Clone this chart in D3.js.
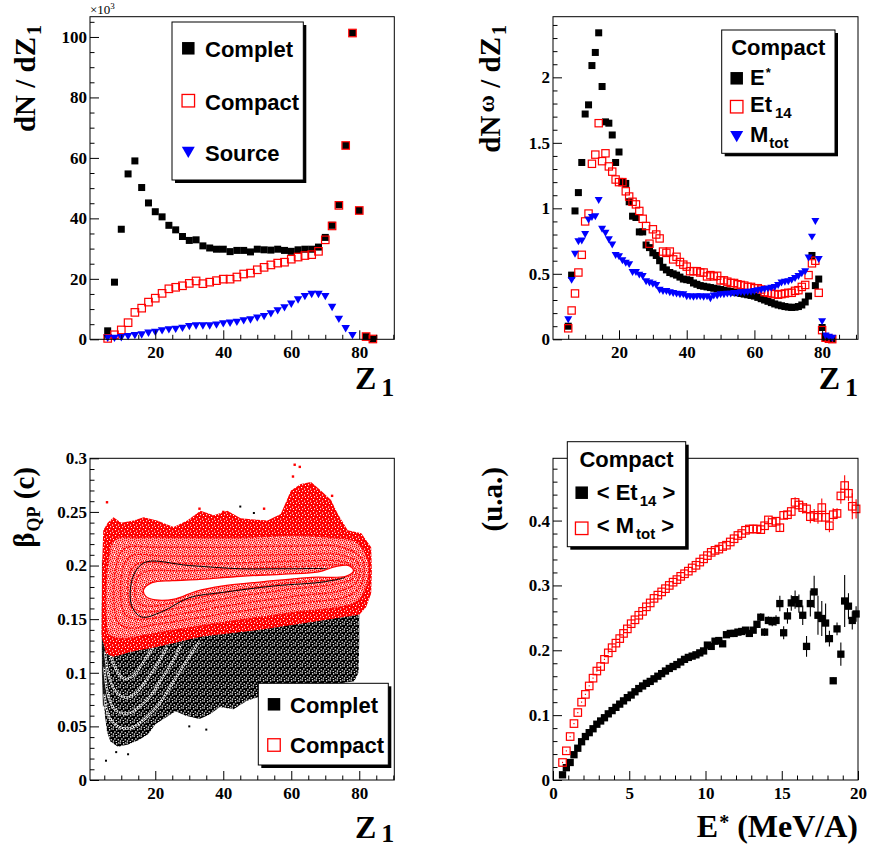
<!DOCTYPE html>
<html><head><meta charset="utf-8">
<script src="https://cdn.jsdelivr.net/npm/d3@7"></script>
<style>
body{margin:0;background:#fff;}
svg{display:block;}
.tick line{stroke:#000;stroke-width:1;}
</style></head><body>
<script>
// ================= DATA =================
// Panel A : dN/dZ1 (x10^3)
const zA = [6,8,10,12,14,16,18,20,22,24,26,28,30,32,34,36,38,40,42,44,46,48,50,52,54,56,58,60,62,64,66,68,70,72,74,76,78,80,82,84];
const completA = [2.8,18.9,36.4,54.7,59.0,50.2,45.1,42.2,40.5,37.7,36.2,34.0,32.7,32.9,30.9,30.2,29.8,29.8,29.0,29.4,29.4,28.9,29.8,29.6,29.5,29.8,29.4,29.1,29.6,29.8,29.8,30.5,33.7,37.7,44.5,64.1,101.3,42.6,0.9,0.1];
const compactA = [0.3,1.5,3.1,5.5,8.9,10.3,12.3,13.6,15.2,16.7,17.2,17.7,18.5,19.3,18.4,18.9,19.4,19.9,19.9,20.6,21.6,21.9,23.0,23.8,24.6,25.2,25.5,26.5,27.2,27.7,28.0,29.1,32.9,37.5,44.3,64.1,101.3,42.6,0.9,0.1];
const zSourceA = [6,8,10,12,14,16,18,20,22,24,26,28,30,32,34,36,38,40,42,44,46,48,50,52,54,56,58,60,62,64,66,68,70,72,74,76,78];
const sourceA = [0.3,0.3,0.5,0.9,1.2,1.4,2.0,2.3,2.8,3.1,3.3,3.6,4.2,4.4,4.4,4.4,4.7,5.1,5.3,5.6,6.1,6.4,7.0,7.5,8.4,9.4,10.4,11.6,13.0,14.1,14.8,14.8,14.1,10.5,6.6,3.5,1.2];
const labelsA = ["Complet","Compact","Source"];
const xTicksA = [20,40,60,80];
const yTicksA = [0,20,40,60,80,100];

// Panel B : dN^w/dZ1, Compact
const zB = [5,6,7,8,9,10,11,12,13,14,15,16,17,18,19,20,21,22,23,24,25,26,27,28,29,30,31,32,33,34,35,36,37,38,39,40,41,42,43,44,45,46,47,48,49,50,51,52,53,54,55,56,57,58,59,60,61,62,63,64,65,66,67,68,69,70,71,72,73,74,75,76,77,78,79,80,81,82,83];
const eStarB = [0.10,0.49,0.98,1.12,1.35,1.72,1.79,2.09,2.19,2.34,
  1.93,1.66,1.65,1.56,1.35,1.43,1.20,1.19,1.05,0.94,
  0.93,0.82,0.82,0.72,0.70,0.66,0.64,0.60,0.55,0.53,
  0.51,0.50,0.49,0.475,0.46,0.455,0.45,0.43,0.42,0.41,
  0.405,0.40,0.395,0.39,0.385,0.38,0.375,0.37,0.365,0.36,
  0.355,0.35,0.345,0.34,0.335,0.33,0.32,0.31,0.30,0.29,
  0.28,0.27,0.262,0.256,0.25,0.246,0.243,0.245,0.25,0.262,
  0.285,0.33,0.64,0.41,0.46,0.09,0.012,0.004,0.001];
const et14B = [0.084,0.22,0.35,0.51,0.645,0.90,0.96,1.34,1.41,1.65,
  1.36,1.42,1.32,1.28,1.22,1.20,1.20,1.13,1.09,1.05,
  1.03,0.98,0.92,0.865,0.73,0.84,0.80,0.77,0.67,0.66,
  0.67,0.61,0.63,0.59,0.57,0.555,0.52,0.52,0.52,0.51,
  0.51,0.48,0.49,0.48,0.485,0.45,0.45,0.44,0.43,0.43,
  0.42,0.415,0.41,0.40,0.40,0.39,0.39,0.38,0.36,0.355,
  0.35,0.345,0.34,0.345,0.35,0.355,0.355,0.37,0.375,0.40,
  0.415,0.49,0.58,0.60,0.355,0.07,0.012,0.004,0.001];
const mtotB = [0.15,0.45,0.65,0.745,0.75,0.80,0.91,0.93,0.935,1.06,
  0.84,0.81,0.76,0.72,0.64,0.63,0.60,0.58,0.57,0.51,
  0.51,0.49,0.48,0.44,0.43,0.42,0.41,0.375,0.365,0.365,
  0.355,0.35,0.345,0.34,0.34,0.325,0.325,0.32,0.325,0.325,
  0.32,0.325,0.31,0.33,0.33,0.34,0.34,0.345,0.345,0.35,
  0.35,0.355,0.355,0.36,0.36,0.365,0.37,0.375,0.38,0.385,
  0.39,0.395,0.41,0.43,0.435,0.44,0.45,0.465,0.48,0.50,
  0.515,0.62,0.78,0.90,0.61,0.135,0.025,0.015,0.008];
const xTicksB = [20,40,60,80];
const yTicksB = [0,0.5,1,1.5,2];

// Panel C : beta_QP vs Z1 (outlines)
const cCompletCloud = [[4.3,0.205],[4.3,0.12],[4.6,0.085],[5.2,0.06],[5.8,0.045],[6.8,0.036],[9,0.031],[12,0.033],[15,0.037],[18,0.043],[20,0.052],[23,0.058],[26,0.064],[29,0.06],[33,0.057],[36,0.061],[39,0.068],[43,0.066],[47,0.074],[52,0.079],[57,0.083],[62,0.086],[68,0.088],[74,0.09],[78.5,0.092],[79.8,0.1],[80,0.13],[80,0.156],[60,0.19],[20,0.2]];
const cCompletEdge = [[4.3,0.165],[5.9,0.16],[6.2,0.12],[5.9,0.075],[4.6,0.068],[4.3,0.1]];
const cCompletLevels = [
  [[5.5,0.135],[7.5,0.11],[9.5,0.098],[11.5,0.094],[13.5,0.097],[15.5,0.105],[17.5,0.115],[19.5,0.124]],
  [[5.2,0.12],[6.5,0.095],[8.5,0.082],[11,0.077],[13.5,0.079],[16,0.087],[18.5,0.098],[21,0.11],[23.5,0.124]],
  [[5,0.105],[6.2,0.078],[8,0.066],[10.5,0.062],[13,0.063],[16,0.07],[19,0.08],[22,0.095],[25,0.11],[27.5,0.126]],
  [[5,0.08],[6.5,0.058],[9,0.05],[12,0.048],[15,0.052],[18,0.06],[21,0.07],[24,0.085],[27,0.1],[30,0.115],[33,0.129]]
];
const cCompletInner = [[13,0.163],[13.5,0.19],[17,0.203],[30,0.2],[45,0.197],[60,0.197],[72,0.196],[76,0.19],[70,0.185],[55,0.181],[40,0.175],[30,0.17],[22,0.157],[16,0.152]];
const cCompactCloud = [[4.2,0.134],[4.3,0.17],[4.4,0.205],[4.7,0.233],[6,0.24],[7.7,0.245],[10,0.24],[13.6,0.242],[16.6,0.245],[20.5,0.242],[25.4,0.236],[29.4,0.242],[33.3,0.251],[37.2,0.247],[41.2,0.251],[45.1,0.244],[49,0.243],[53,0.242],[56.9,0.248],[59.9,0.27],[62.8,0.276],[65.8,0.278],[68.7,0.27],[71.7,0.261],[73.7,0.248],[76.6,0.233],[80.6,0.23],[83.5,0.217],[83.7,0.195],[83.5,0.174],[82,0.161],[80,0.154],[53,0.141],[33.3,0.1335],[20.5,0.124],[13.6,0.12],[7.7,0.115],[5.5,0.118]];
const cCompactLevels = [
  [[5.5,0.15],[6,0.2],[8,0.224],[15,0.226],[30,0.226],[45,0.226],[60,0.228],[72,0.226],[79,0.222],[82.5,0.205],[82,0.18],[79,0.166],[60,0.156],[40,0.147],[22,0.138],[10,0.132],[6.5,0.135]],
  [[8,0.16],[8.5,0.2],[11,0.216],[20,0.217],[40,0.217],[60,0.218],[75,0.217],[81,0.205],[80.5,0.182],[77,0.172],[60,0.164],[40,0.155],[22,0.146],[12,0.142],[9,0.147]],
  [[10,0.165],[10.5,0.198],[13,0.209],[22,0.209],[40,0.209],[60,0.21],[76,0.209],[80,0.2],[79.5,0.186],[76,0.178],[60,0.171],[40,0.162],[24,0.153],[14,0.15],[11,0.155]],
  [[12,0.17],[12.5,0.193],[15,0.202],[24,0.202],[40,0.202],[60,0.204],[76,0.203],[79,0.196],[78.5,0.189],[75,0.184],[60,0.178],[40,0.169],[26,0.16],[16,0.157],[13,0.161]],
  [[14,0.173],[15,0.19],[18,0.195],[28,0.195],[44,0.197],[62,0.199],[77,0.199],[78,0.194],[74,0.188],[60,0.184],[42,0.176],[28,0.167],[18,0.162],[15,0.165]]
];
const cCompactCore = [[16.5,0.177],[19,0.184],[25,0.186],[33,0.187],[45,0.19],[58,0.192],[68,0.194],[73,0.199],[77,0.2],[78.3,0.195],[76,0.19],[66,0.189],[52,0.185],[40,0.181],[32,0.176],[26,0.169],[20,0.168],[17.3,0.171]];
const cCompactOutliers = [[5.8,0.259],[61,0.294],[62.5,0.292],[60.5,0.283],[33,0.253],[40,0.25],[72,0.265],[52,0.253],[66,0.274]];
const cCompletOutliers = [[5.5,0.018],[8.5,0.026],[12,0.024],[45,0.255],[49,0.249],[30,0.05],[35,0.047]];
const labelsC = ["Complet","Compact"];
const xTicksC = [20,40,60,80];
const yTicksC = [0,0.05,0.1,0.15,0.2,0.25,0.3];

// Panel D : <Et14>, <Mtot> vs E*
const eD = [0.625,0.875,1.125,1.375,1.625,1.875,2.125,2.375,2.625,2.875,
  3.125,3.375,3.625,3.875,4.125,4.375,4.625,4.875,5.125,5.375,
  5.625,5.875,6.125,6.375,6.625,6.875,7.125,7.375,7.625,7.875,
  8.125,8.375,8.625,8.875,9.125,9.375,9.625,9.875,10.125,10.375,
  10.625,10.875,11.125,11.375,11.625,11.875,12.125,12.375,12.625,12.875,
  13.125,13.375,13.625,13.875,14.125,14.375,14.625,14.875,15.125,15.375,
  15.625,15.875,16.125,16.375,16.625,16.875,17.125,17.375,17.625,17.875,
  18.125,18.375,18.625,18.875,19.125,19.375,19.625,19.875];
const et14D = [0.008,0.019,0.027,0.039,0.049,0.059,0.067,0.073,0.079,0.086,
  0.091,0.096,0.102,0.107,0.112,0.117,0.122,0.127,0.131,0.136,
  0.141,0.145,0.149,0.152,0.156,0.160,0.164,0.168,0.172,0.175,
  0.178,0.182,0.186,0.189,0.191,0.193,0.196,0.199,0.208,0.206,
  0.214,0.215,0.210,0.224,0.226,0.226,0.228,0.229,0.231,0.226,
  0.231,0.240,0.251,0.228,0.246,0.244,0.246,0.272,0.227,0.253,
  0.273,0.278,0.272,0.254,0.206,0.272,0.290,0.254,0.249,0.242,
  0.218,0.153,0.233,0.194,0.276,0.268,0.246,0.256];
const et14DErr = [0.001,0.001,0.001,0.001,0.001,0.001,0.001,0.001,0.001,0.001,
  0.001,0.001,0.001,0.001,0.001,0.001,0.001,0.001,0.001,0.001,
  0.001,0.001,0.001,0.001,0.001,0.001,0.001,0.001,0.001,0.001,
  0.0015,0.0015,0.0015,0.0015,0.0015,0.0015,0.0015,0.0015,0.0015,0.0015,
  0.002,0.002,0.003,0.003,0.003,0.003,0.003,0.004,0.004,0.004,
  0.004,0.005,0.006,0.006,0.006,0.007,0.008,0.012,0.010,0.012,
  0.012,0.014,0.014,0.015,0.016,0.020,0.025,0.030,0.027,0.030,
  0.012,0.005,0.010,0.018,0.040,0.020,0.014,0.012];
const mtotD = [0.027,0.045,0.067,0.087,0.104,0.120,0.132,0.145,0.157,0.168,
  0.175,0.186,0.196,0.204,0.211,0.218,0.226,0.233,0.241,0.247,
  0.254,0.260,0.267,0.273,0.280,0.285,0.290,0.295,0.300,0.305,
  0.309,0.314,0.318,0.322,0.327,0.331,0.336,0.341,0.346,0.351,
  0.354,0.356,0.360,0.362,0.367,0.372,0.377,0.380,0.385,0.387,
  0.387,0.387,0.386,0.392,0.401,0.397,0.399,0.389,0.408,0.409,
  0.414,0.428,0.424,0.420,0.418,0.406,0.408,0.405,0.420,0.405,
  0.392,0.409,0.411,0.438,0.454,0.442,0.422,0.418];
const mtotDErr = [0.001,0.001,0.001,0.001,0.001,0.001,0.001,0.001,0.001,0.001,
  0.001,0.001,0.001,0.001,0.001,0.001,0.001,0.001,0.001,0.001,
  0.001,0.001,0.001,0.001,0.001,0.001,0.001,0.001,0.001,0.001,
  0.001,0.001,0.001,0.001,0.001,0.001,0.001,0.001,0.001,0.001,
  0.002,0.002,0.002,0.002,0.002,0.002,0.002,0.002,0.002,0.002,
  0.003,0.003,0.003,0.004,0.004,0.005,0.005,0.006,0.006,0.007,
  0.007,0.008,0.008,0.009,0.009,0.010,0.010,0.010,0.014,0.012,
  0.010,0.010,0.008,0.012,0.016,0.012,0.020,0.015];
const xTicksD = [0,5,10,15,20];
const yTicksD = [0,0.1,0.2,0.3,0.4];

// ================= DRAWING =================
const SERIF = '"Liberation Serif","Times New Roman",Times,serif';
const SANS = '"Liberation Sans",Arial,Helvetica,sans-serif';
const RED = "#ff0000", BLUE = "#0000ff";
const svg = d3.select("body").append("svg").attr("width",870).attr("height",848);
const defs = svg.append("defs");

function pattern(id, w, bg, color, dots, s){
  const p = defs.append("pattern").attr("id",id).attr("width",w).attr("height",w).attr("patternUnits","userSpaceOnUse");
  if (bg) p.append("rect").attr("width",w).attr("height",w).attr("fill",bg);
  dots.forEach(([a,b]) => p.append("rect").attr("x",a).attr("y",b).attr("width",s).attr("height",s).attr("fill",color));
}
pattern("blk",7,"#000","#fff",[[0.5,0.5],[4,1.2],[2.2,3.3],[5.6,4.1],[0.8,5.4],[3.6,6.0],[6.2,0.2]],1.3);
pattern("redDense",6,RED,"#fff",[[1,1],[4,2.5],[2,4.2],[5,5]],1.1);
pattern("redMid",6,"#fff",RED,[[0,0],[2,0.5],[4,0],[1,2],[3,2.5],[5,2],[0,4],[2,4.5],[4,4]],1.5);

function makePanel(o){
  const x = d3.scaleLinear().domain(o.xd).range([o.x0,o.x1]);
  const y = d3.scaleLinear().domain(o.yd).range([o.y1,o.y0]);
  const g = svg.append("g");
  return {x,y,g,o};
}
function styleTicks(sel){
  sel.selectAll("text").style("font-family",SERIF).style("font-weight","bold").style("font-size","17px").style("fill","#000");
}
function axes(p, xMajor, xMinor, yMajor, yMinor){
  const {x,y,g,o} = p;
  const ax = g.append("g");
  ax.append("g").attr("transform",`translate(0,${o.y1})`)
    .call(d3.axisBottom(x).tickValues(xMajor).tickSize(-9).tickPadding(7).tickFormat(d=>String(d))).call(styleTicks);
  ax.append("g").attr("transform",`translate(0,${o.y1})`)
    .call(d3.axisBottom(x).tickValues(xMinor).tickSize(-4.5).tickFormat(""));
  ax.append("g").attr("transform",`translate(${o.x0},0)`)
    .call(d3.axisLeft(y).tickValues(yMajor).tickSize(-9).tickPadding(3).tickFormat(d=>String(d))).call(styleTicks);
  ax.append("g").attr("transform",`translate(${o.x0},0)`)
    .call(d3.axisLeft(y).tickValues(yMinor).tickSize(-4.5).tickFormat(""));
  ax.selectAll(".domain").remove();
  g.append("rect").attr("x",o.x0).attr("y",o.y0).attr("width",o.x1-o.x0).attr("height",o.y1-o.y0)
    .attr("fill","none").attr("stroke","#000").attr("stroke-width",1);
}
function minor(step, max, every){
  return d3.range(1, Math.floor(max/step+1e-9)+1).filter(i=>i%every!==0).map(i=>+(i*step).toFixed(4));
}
function squares(g, xs, ys, p, size, filled, color){
  g.append("g").selectAll("rect").data(xs.map((v,i)=>[v,ys[i]])).join("rect")
    .attr("x",d=>p.x(d[0])-size/2).attr("y",d=>p.y(d[1])-size/2)
    .attr("width",size).attr("height",size)
    .attr("fill",filled?color:"none").attr("stroke",filled?"none":color).attr("stroke-width",filled?0:1.2);
}
function tri(w){ const h=w*0.87; return `M${-w/2},${-h/2}L${w/2},${-h/2}L0,${h/2}Z`; }
function triangles(g, xs, ys, p, w, color){
  g.append("g").selectAll("path").data(xs.map((v,i)=>[v,ys[i]])).join("path")
    .attr("transform",d=>`translate(${p.x(d[0])},${p.y(d[1])})`).attr("d",tri(w)).attr("fill",color);
}
function legendBox(x0,y0,x1,y1){
  svg.append("rect").attr("x",x0+3).attr("y",y0+3).attr("width",x1-x0).attr("height",y1-y0).attr("fill","#000");
  svg.append("rect").attr("x",x0).attr("y",y0).attr("width",x1-x0).attr("height",y1-y0).attr("fill","#fff").attr("stroke","#000").attr("stroke-width",1);
}
function legText(x,y,anchor){
  return svg.append("text").attr("x",x).attr("y",y).attr("text-anchor",anchor||"start")
    .attr("font-family",SANS).attr("font-weight","bold").attr("font-size",22).attr("fill","#000");
}
function legMarker(kind,cx,cy,color){
  const s=12.5;
  if(kind==="fill") svg.append("rect").attr("x",cx-s/2).attr("y",cy-s/2).attr("width",s).attr("height",s).attr("fill",color);
  else if(kind==="open") svg.append("rect").attr("x",cx-s/2).attr("y",cy-s/2).attr("width",s).attr("height",s).attr("fill","none").attr("stroke",color).attr("stroke-width",1.3);
  else svg.append("path").attr("transform",`translate(${cx},${cy})`).attr("d",tri(13)).attr("fill",color);
}
function title(x,y,rot,size){
  const t = svg.append("text").attr("text-anchor","end").attr("font-family",SERIF).attr("font-weight","bold").attr("font-size",size).attr("fill","#000");
  if(rot) t.attr("transform",`translate(${x},${y}) rotate(-90)`); else t.attr("x",x).attr("y",y);
  return t;
}

// ---------- Panel A ----------
const pA = makePanel({x0:90,x1:394.3,y0:16.7,y1:339.3,xd:[0.8,90.3],yd:[0,106.7]});
squares(pA.g, zA, completA, pA, 7, true, "#000");
squares(pA.g, zA, compactA, pA, 7.5, false, RED);
triangles(pA.g, zSourceA, sourceA, pA, 8.5, BLUE);
axes(pA, xTicksA, minor(5,90,4), yTicksA, minor(5,105,4));
{
  const t = svg.append("text").attr("x",90).attr("y",14).attr("font-family",SERIF).attr("font-size",13).attr("fill","#000");
  t.append("tspan").text("\u00d710");
  t.append("tspan").attr("dy",-5).attr("font-size",9).text("3");
}
{ const t = title(35,25,true,29); t.append("tspan").text("dN / dZ"); t.append("tspan").attr("dy",6).attr("dx",2).attr("font-size",20).text("1"); }
{ const t = title(394.3,389,false,32); t.append("tspan").text("Z"); t.append("tspan").attr("dx",5).attr("dy",7).attr("font-size",26).text("1"); }
legendBox(172,22,303.3,180);
legMarker("fill",188.3,48.3,"#000"); legText(205,56.7).text(labelsA[0]);
legMarker("open",188.3,100.7,RED); legText(205,110).text(labelsA[1]);
legMarker("tri",188.3,152.3,BLUE); legText(205,160.7).text(labelsA[2]);

// ---------- Panel B ----------
const pB = makePanel({x0:553,x1:858,y0:16.7,y1:339.3,xd:[0.5,90.6],yd:[0,2.463]});
squares(pB.g, zB, eStarB, pB, 7, true, "#000");
squares(pB.g, zB, et14B, pB, 7.3, false, RED);
triangles(pB.g, zB, mtotB, pB, 8, BLUE);
axes(pB, xTicksB, minor(5,90,4), yTicksB, minor(0.1,2.4,5));
{ const t = title(500,25,true,29); t.append("tspan").text("dN");
  t.append("tspan").attr("dy",-6).attr("dx",3).attr("font-size",24).text("\u03c9");
  t.append("tspan").attr("dy",6).text(" / dZ");
  t.append("tspan").attr("dy",6).attr("dx",2).attr("font-size",20).text("1"); }
{ const t = title(858,389,false,32); t.append("tspan").text("Z"); t.append("tspan").attr("dx",5).attr("dy",7).attr("font-size",26).text("1"); }
legendBox(721.7,30,835,153.3);
legText(778.3,54.5,"middle").text("Compact");
legMarker("fill",736.7,78.3,"#000");
{ const t = legText(750,85); t.append("tspan").text("E"); t.append("tspan").attr("dy",-8).attr("dx",1).attr("font-size",13).text("*"); }
legMarker("open",736.7,106.7,RED);
{ const t = legText(750,111.7); t.append("tspan").text("Et"); t.append("tspan").attr("dx",3).attr("dy",6).attr("font-size",15).text("14"); }
legMarker("tri",736.7,136.7,BLUE);
{ const t = legText(750,141.7); t.append("tspan").text("M"); t.append("tspan").attr("dx",1).attr("dy",6).attr("font-size",15).text("tot"); }

// ---------- Panel C ----------
const pC = makePanel({x0:90,x1:394.3,y0:458.3,y1:780,xd:[0.8,90.3],yd:[0,0.3]});
defs.append("clipPath").attr("id","clipC").append("rect").attr("x",90).attr("y",458.3).attr("width",304.3).attr("height",321.7);
const gC = pC.g.append("g").attr("clip-path","url(#clipC)");
const closedLin = d3.line().x(d=>pC.x(d[0])).y(d=>pC.y(d[1])).curve(d3.curveLinearClosed);
const smoothClosed = d3.line().x(d=>pC.x(d[0])).y(d=>pC.y(d[1])).curve(d3.curveCatmullRomClosed.alpha(0.5));
const smoothOpen = d3.line().x(d=>pC.x(d[0])).y(d=>pC.y(d[1])).curve(d3.curveCatmullRom.alpha(0.5));
gC.append("path").attr("d",closedLin(cCompletCloud)).attr("fill","url(#blk)");
gC.append("path").attr("d",closedLin(cCompletEdge)).attr("fill","#111").attr("opacity",0.85);
cCompletLevels.forEach(l => gC.append("path").attr("d",smoothOpen(l)).attr("fill","none").attr("stroke","#fff").attr("stroke-width",2.2));
cCompletLevels.forEach(l => gC.append("path").attr("d",smoothOpen(l)).attr("fill","none").attr("stroke","#000").attr("stroke-width",1.2).attr("stroke-dasharray","1.6 1.2"));
gC.selectAll(null).data(cCompletOutliers).join("rect").attr("x",d=>pC.x(d[0])-1).attr("y",d=>pC.y(d[1])-1).attr("width",2).attr("height",2).attr("fill","#000");
gC.append("path").attr("d",closedLin(cCompactCloud)).attr("fill","url(#redDense)");
gC.append("path").attr("d",smoothClosed(cCompactLevels[0])).attr("fill","url(#redMid)");
cCompactLevels.forEach(l => gC.append("path").attr("d",smoothClosed(l)).attr("fill","none").attr("stroke",RED).attr("stroke-width",1.4).attr("stroke-dasharray","1.8 1.2"));
gC.append("path").attr("d",smoothClosed(cCompletInner)).attr("fill","none").attr("stroke","#000").attr("stroke-width",1);
gC.append("path").attr("d",smoothClosed(cCompactCore)).attr("fill","#fff").attr("stroke",RED).attr("stroke-width",1.3);
gC.selectAll(null).data(cCompactOutliers).join("rect").attr("x",d=>pC.x(d[0])-1.2).attr("y",d=>pC.y(d[1])-1.2).attr("width",2.4).attr("height",2.4).attr("fill",RED);
axes(pC, xTicksC, minor(5,90,4), yTicksC, minor(0.01,0.29,5));
{ const t = title(34,467,true,29); t.append("tspan").text("\u03b2");
  t.append("tspan").attr("dy",6).attr("dx",1).attr("font-size",18).text("QP");
  t.append("tspan").attr("dy",-6).text(" (c)"); }
{ const t = title(394.3,838.3,false,32); t.append("tspan").text("Z"); t.append("tspan").attr("dx",5).attr("dy",4).attr("font-size",26).text("1"); }
legendBox(258.3,683.3,388.3,765);
legMarker("fill",274,704.3,"#000"); legText(290,713.3).text(labelsC[0]);
legMarker("open",274,745,RED); legText(290,753.3).text(labelsC[1]);

// ---------- Panel D ----------
const pD = makePanel({x0:553,x1:858,y0:458.3,y1:780,xd:[0,20],yd:[0,0.496]});
function errBars(g, xs, ys, es, p, color){
  g.append("g").selectAll("line").data(xs.map((v,i)=>[v,ys[i],es[i]])).join("line")
    .attr("x1",d=>p.x(d[0])).attr("x2",d=>p.x(d[0]))
    .attr("y1",d=>p.y(d[1]-d[2])).attr("y2",d=>p.y(d[1]+d[2]))
    .attr("stroke",color).attr("stroke-width",1.1);
}
errBars(pD.g, eD, et14D, et14DErr, pD, "#000");
squares(pD.g, eD, et14D, pD, 7.3, true, "#000");
errBars(pD.g, eD, mtotD, mtotDErr, pD, RED);
squares(pD.g, eD, mtotD, pD, 7.5, false, RED);
axes(pD, xTicksD, minor(1,20,5), yTicksD, minor(0.02,0.48,5));
{ const t = title(502,467,true,29); t.text("(u.a.)"); }
{ const t = title(858,836.7,false,32); t.append("tspan").text("E");
  t.append("tspan").attr("dy",-8).attr("dx",1).attr("font-size",20).text("*");
  t.append("tspan").attr("dy",8).text(" (MeV/A)"); }
legendBox(567.3,441.7,685.7,546.7);
legText(626.5,467,"middle").text("Compact");
legMarker("fill",581.7,492.7,"#000");
{ const t = legText(596.7,500); t.append("tspan").text("< Et"); t.append("tspan").attr("dx",2).attr("dy",6).attr("font-size",15).text("14"); t.append("tspan").attr("dy",-6).text(" >"); }
legMarker("open",581.7,528.3,RED);
{ const t = legText(596.7,533.3); t.append("tspan").text("< M"); t.append("tspan").attr("dx",2).attr("dy",6).attr("font-size",15).text("tot"); t.append("tspan").attr("dy",-6).text(" >"); }
</script></body></html>
